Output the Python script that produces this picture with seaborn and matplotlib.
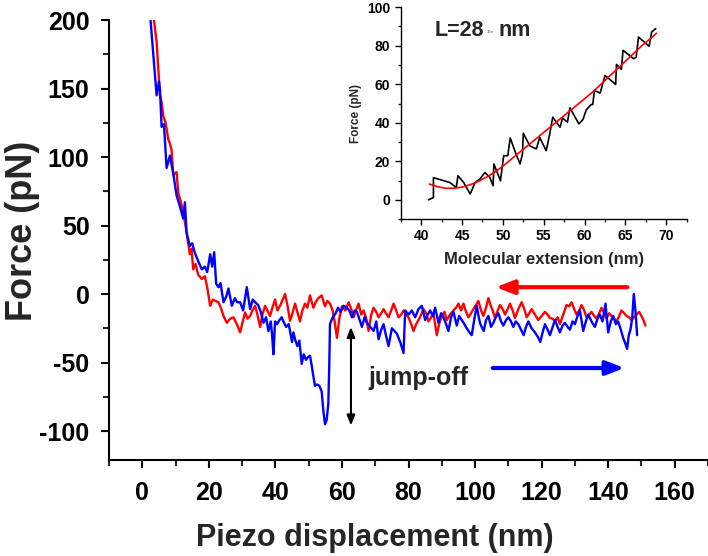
import matplotlib
matplotlib.use("Agg")
import matplotlib.pyplot as plt
import seaborn as sns
import pandas as pd
import numpy as np
from matplotlib.ticker import MultipleLocator

# ---------------- data ----------------
blue_x = [2.0, 2.3, 3.3, 4.3, 5.0, 5.3, 5.8, 6.5, 7.3, 8.3, 9.3, 10.3, 11.3, 12.3, 12.8, 13.3, 14.3, 15.0,
          15.8, 16.8, 17.9, 18.8, 19.5, 20.4, 21.0, 21.6, 22.2, 22.9, 23.5, 24.4, 25.2, 25.9, 26.9, 27.8,
          28.5, 29.4, 30.3, 31.4, 32.4, 33.2, 33.9, 34.8, 35.6, 36.4, 37.2, 37.9, 38.6, 39.0, 39.4, 39.9,
          40.5, 41.2, 41.9, 42.4, 43.2, 44.0, 44.4, 45.0, 45.4, 45.9, 46.6, 47.2, 47.9, 48.5, 49.2, 49.8,
          50.4, 50.9, 51.4, 51.9, 52.5, 53.2, 53.9, 54.4, 54.9, 55.4, 55.9, 56.2, 56.4, 57.2, 58.0, 58.8,
          59.6, 60.5, 61.5, 62.2, 63.0, 63.8, 64.5, 65.2, 66.0, 66.8, 67.5, 68.5, 69.5, 70.3, 71.0, 71.8,
          72.5, 73.2, 74.0, 75.0, 75.8, 76.5, 77.5, 78.5, 79.0, 80.0, 81.0, 82.0, 83.0, 84.0, 85.0, 85.8,
          86.5, 87.3, 88.0, 89.0, 89.8, 90.5, 91.3, 92.0, 92.8, 93.5, 94.5, 95.2, 96.0, 96.8, 97.5, 98.3,
          99.0, 99.8, 100.5, 101.2, 101.6, 102.6, 103.3, 104.0, 104.8, 105.5, 106.2, 107.0, 107.8, 108.5,
          109.3, 110.0, 110.8, 111.5, 112.2, 113.0, 113.8, 114.6, 115.3, 116.0, 117.0, 118.0, 118.8, 119.6,
          120.3, 121.0, 121.8, 122.5, 123.3, 124.0, 124.8, 125.5, 126.3, 127.0, 127.8, 128.5, 129.3, 130.0,
          130.8, 131.5, 132.5, 133.3, 134.0, 135.0, 136.0, 136.8, 137.5, 138.3, 139.2, 140.0, 140.8, 141.5,
          142.3, 143.0, 143.8, 144.5, 145.0, 145.7, 146.2, 146.7, 147.2, 147.7, 148.2, 148.7]
blue_y = [215, 205, 175, 145, 155, 150, 122, 124, 92, 101, 88, 72, 64, 55, 67, 45, 35, 37,
          30, 24, 18, 20, 16, 29, 20, 30.5, 7.5, 5, 8, -6, -2, 4, -8.6, -3,
          -6, -6, -12, 5, -11, -4, -6, -8, -13, -21, -17, -27, -20, -30, -44, -20,
          -22, -19, -17, -20, -24, -22, -27, -35, -28, -33, -38, -34, -51, -44, -48, -46,
          -45, -52, -60, -67, -66, -67, -71, -85, -95, -92, -80, -50, -22, -17, -14.6, -10,
          -13, -8.6, -10, -12, -17, -12, -13, -18, -24, -17, -21, -24, -27, -20, -33, -26,
          -22, -30, -38, -25, -27, -29, -35, -43, -12, -15, -12, -17, -11, -8.6, -19, -15,
          -12, -16, -10, -21, -14, -17, -22, -27, -17, -13, -23, -16, -19, -22, -25, -28,
          -30, -18, -8.6, -18, -22, -27, -19, -16, -24, -21, -17, -14, -20, -23,
          -19, -17, -20, -24, -20, -22, -26, -30, -24, -20, -25, -28, -31, -35,
          -28, -22, -26, -30, -24, -19, -24, -28, -23, -21, -24, -26, -20, -22,
          -16, -12, -27, -20, -15, -20, -24, -18, -15, -20, -7, -28, -20, -16,
          -22, -20, -26, -32, -35, -40, -30, -26, -18, 0, -12, -30]

red_x = [3.0, 3.3, 4.3, 5.3, 5.8, 6.3, 7.0, 7.8, 8.3, 8.8, 9.3, 10.3, 10.8, 11.5, 12.3, 13.3, 14.3, 14.8,
         15.3, 16.0, 16.8, 17.9, 18.8, 19.5, 20.4, 21.2, 21.9, 22.9, 23.6, 24.4, 25.4, 26.4, 27.4, 28.4,
         29.4, 30.2, 30.9, 31.6, 32.4, 33.1, 33.9, 34.6, 35.4, 36.1, 36.9, 37.6, 38.4, 39.1, 39.9, 40.6,
         41.4, 42.2, 42.9, 43.6, 44.4, 44.9, 45.9, 46.6, 47.4, 48.1, 48.9, 49.6, 50.4, 51.4, 52.1, 52.9,
         53.9, 54.9, 55.6, 56.4, 57.2, 57.8, 58.5, 59.2, 60.0, 61.0, 62.0, 62.8, 63.5, 64.2, 65.0, 65.8,
         66.5, 67.3, 68.0, 68.8, 69.5, 70.3, 71.0, 71.8, 72.5, 73.2, 74.0, 74.8, 75.5, 76.3, 77.0, 77.8,
         78.5, 79.3, 80.0, 80.8, 81.5, 82.3, 83.0, 83.8, 84.5, 85.3, 86.0, 86.8, 87.5, 88.0, 88.5, 89.3,
         90.0, 90.8, 91.5, 92.5, 93.5, 94.3, 95.0, 95.8, 96.5, 97.3, 98.0, 98.8, 99.5, 100.3, 101.0, 101.8,
         102.5, 103.3, 104.0, 104.8, 105.3, 106.0, 106.8, 107.5, 108.3, 109.0, 109.8, 110.5, 111.3, 112.0,
         113.0, 114.0, 114.8, 115.5, 116.3, 117.0, 118.0, 119.0, 120.0, 121.0, 121.8, 122.5, 123.3, 124.0,
         124.8, 125.5, 126.5, 127.5, 128.3, 129.0, 129.8, 130.5, 131.3, 132.0, 132.8, 133.5, 134.3, 135.0,
         135.8, 136.5, 137.3, 138.0, 138.8, 139.5, 140.3, 141.0, 141.8, 142.5, 143.3, 144.0, 144.8, 145.5,
         146.3, 147.0, 147.8, 148.5, 149.3, 150.0, 150.6, 151.2]
red_y = [215, 204, 184, 145, 140, 130, 125, 113, 110, 105, 87, 89, 74, 68, 60, 45, 29, 33,
         18, 22, 14, 11, 13, 5, -8.6, -4, -5, -6, -10, -16, -21, -18, -17, -22,
         -28, -20, -13.4, -18, -16, -12, -8.6, -15, -24, -15, -8.6, -12, -16, -10, -4, -12,
         -8.6, -4, 0, -8, -19.5, -16, -7, -13, -20, -12, -7, -10, -1, -10, -6, -3,
         -1, -9, -5, -7, -12, -20, -32, -18, -9, -12, -6, -11, -17, -12, -7, -15,
         -12, -18, -27, -15, -10, -13, -17, -14, -11, -14, -17, -12, -7, -12, -17, -15,
         -12, -15, -17, -22, -27, -22, -19, -15, -11, -14, -20, -17, -14, -22, -30, -21,
         -16, -13, -19, -15, -12, -10, -7, -12, -7, -13, -17, -14, -11, -8, -5, -12,
         -16, -10, -3, -9, -12, -17.5, -12, -8, -11, -15, -11, -7, -12, -17.5,
         -11, -6, -11, -17, -14, -11, -15, -19, -16, -13, -15, -17.5, -18, -20,
         -17, -22, -15, -8, -9, -6, -11, -15, -12, -8, -12, -17, -15, -13,
         -16, -18, -14, -10, -14, -18, -14, -16, -18, -20, -16, -12, -14, -16,
         -17, -19, -17, -15, -13, -16, -19, -23]

inset_x = [40.9, 41.5, 41.5, 42.7, 43.5, 44.3, 44.5, 45.2, 46.0, 46.6, 47.2, 47.8, 48.4, 48.8, 48.9,
           49.7, 50.1, 50.6, 50.9, 51.5, 52.1, 52.4, 52.5, 53.3, 54.1, 54.5, 55.3, 55.7, 56.1, 57.0,
           57.3, 57.9, 58.2, 59.3, 59.8, 60.2, 60.8, 61.0, 61.2, 61.9, 62.5, 63.8, 63.9, 64.5, 64.7,
           66.0, 66.3, 66.6, 67.9, 68.2, 68.7]
inset_y = [0, 1.2, 11.5, 10, 9, 6.4, 12.5, 9, 3, 9, 10.8, 14.2, 11.6, 7.3, 18.6,
           9.9, 22.9, 22.9, 32.1, 25, 18.6, 24, 34.5, 28, 26.4, 32.4, 25.5, 33.5, 42.9, 37.7,
           42.5, 40.3, 47.8, 39.4, 41.7, 46.7, 49.5, 49.5, 56.8, 55.4, 64.6, 59.9, 70.3, 67.7, 77.6,
           73.3, 74, 84.5, 79.7, 87.1, 88.9]

fit_x = [41.0, 42.0, 43.0, 44.0, 45.0, 46.0, 47.0, 48.0, 49.0, 50.0, 51.0, 52.0, 53.0, 54.0, 55.0,
         56.0, 57.0, 58.0, 59.0, 60.0, 61.0, 62.0, 63.0, 64.0, 65.0, 66.0, 67.0, 68.0, 68.8]
fit_y = [8.2, 6.8, 6.0, 6.0, 6.6, 7.8, 9.6, 11.8, 14.3, 17.5, 21.0, 24.5, 28.0, 31.5, 35.0,
         38.5, 42.0, 45.5, 49.0, 52.5, 56.0, 60.0, 64.0, 68.0, 72.0, 76.0, 80.0, 83.5, 86.5]

# ---------------- style ----------------
sns.set_theme(style="ticks")
plt.rcParams['font.family'] = ['Liberation Sans', 'DejaVu Sans']
plt.rcParams['font.weight'] = 'bold'
plt.rcParams['axes.labelweight'] = 'bold'
plt.rcParams['axes.unicode_minus'] = False

fig = plt.figure(figsize=(7.08, 5.56), dpi=100)
ax = fig.add_axes([0.154, 0.173, 0.846, 0.791])

df_red = pd.DataFrame({"x": red_x, "y": red_y})
df_blue = pd.DataFrame({"x": blue_x, "y": blue_y})
sns.lineplot(data=df_red, x="x", y="y", ax=ax, color="#ff0000", lw=1.7, sort=False, estimator=None)
sns.lineplot(data=df_blue, x="x", y="y", ax=ax, color="#0000ff", lw=1.7, sort=False, estimator=None)

ax.set_xlim(-10, 170)
ax.set_ylim(-121, 200)
ax.xaxis.set_major_locator(MultipleLocator(20))
ax.xaxis.set_minor_locator(MultipleLocator(10))
ax.yaxis.set_major_locator(MultipleLocator(50))
ax.yaxis.set_minor_locator(MultipleLocator(25))
for s in ['top', 'right']:
    ax.spines[s].set_visible(False)
for s in ['left', 'bottom']:
    ax.spines[s].set_linewidth(1.5)
    ax.spines[s].set_color('black')
ax.tick_params(which='major', direction='out', length=6, width=1.5, labelsize=18, colors='black')
ax.tick_params(which='minor', direction='out', length=4, width=1.5)
ax.tick_params(axis='x', which='major', pad=9)
ax.tick_params(axis='y', which='major', pad=8)
for lab in ax.get_xticklabels() + ax.get_yticklabels():
    lab.set_fontweight('bold')
ax.set_xlabel("Piezo displacement (nm)", fontsize=22, fontweight='bold')
ax.set_ylabel("Force (pN)", fontsize=26, fontweight='bold')
ax.xaxis.set_label_coords(0.444, -0.143)
ax.yaxis.set_label_coords(-0.116, 0.52)

# arrows and annotation
ax.annotate("", xy=(105.4, 5), xytext=(146.6, 5),
            arrowprops=dict(arrowstyle="-|>,head_length=0.9,head_width=0.35", color="#ff0000", lw=3))
ax.annotate("", xy=(145.7, -54), xytext=(104.5, -54),
            arrowprops=dict(arrowstyle="-|>,head_length=0.9,head_width=0.35", color="#0000ff", lw=3))
ax.annotate("", xy=(62.7, -98), xytext=(62.7, -22),
            arrowprops=dict(arrowstyle="<|-|>,head_length=0.5,head_width=0.2", color="black", lw=1.5))
ax.text(68, -61, "jump-off", fontsize=18, fontweight='bold', va='center', ha='left')

# ---------------- inset ----------------
ins = fig.add_axes([0.566, 0.606, 0.404, 0.381])
df_in = pd.DataFrame({"x": inset_x, "y": inset_y})
df_fit = pd.DataFrame({"x": fit_x, "y": fit_y})
sns.lineplot(data=df_in, x="x", y="y", ax=ins, color="black", lw=1.2, sort=False, estimator=None)
sns.lineplot(data=df_fit, x="x", y="y", ax=ins, color="#ff0000", lw=1.2, sort=False, estimator=None)
ins.set_xlim(37.5, 72.5)
ins.set_ylim(-10, 100)
ins.xaxis.set_major_locator(MultipleLocator(5))
ins.xaxis.set_minor_locator(MultipleLocator(2.5))
ins.yaxis.set_major_locator(MultipleLocator(20))
ins.yaxis.set_minor_locator(MultipleLocator(10))
ins.patch.set_alpha(0)
for s in ['top', 'right']:
    ins.spines[s].set_visible(False)
for s in ['left', 'bottom']:
    ins.spines[s].set_linewidth(1.0)
    ins.spines[s].set_color('black')
ins.tick_params(which='major', direction='out', length=4, width=1.0, labelsize=10, colors='black')
ins.tick_params(which='minor', direction='out', length=2, width=1.0)
for lab in ins.get_xticklabels() + ins.get_yticklabels():
    lab.set_fontweight('bold')
ins.set_xlabel("Molecular extension (nm)", fontsize=12, fontweight='bold', labelpad=6)
ins.set_ylabel("Force (pN)", fontsize=8.5, fontweight='bold', labelpad=4)

fig.text(435 / 708, 1 - 31 / 556, "L=28", fontsize=15.5, fontweight='bold', va='center', ha='left')
fig.text(487 / 708, 1 - 32 / 556, "30±", fontsize=3, color='#888888', va='center', ha='left')
fig.text(498 / 708, 1 - 31 / 556, "nm", fontsize=15.5, fontweight='bold', va='center', ha='left')

fig.savefig("out.png", dpi=100)
